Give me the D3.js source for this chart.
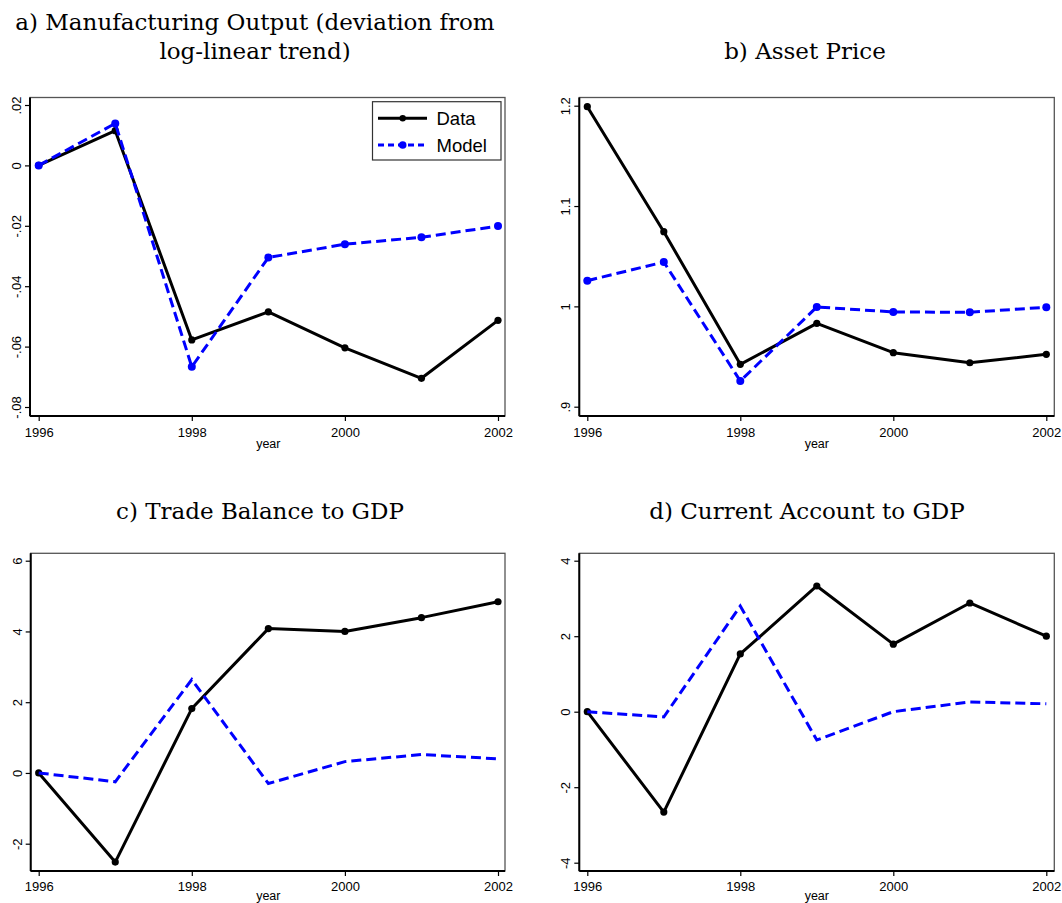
<!DOCTYPE html>
<html>
<head>
<meta charset="utf-8">
<script src="https://cdn.jsdelivr.net/npm/d3@7"></script>
<style>
  html, body { margin: 0; padding: 0; background: #fff; }
  svg { display: block; }
</style>
</head>
<body>
<svg id="chart" width="1062" height="903"></svg>
<script>
// ---------------- data ----------------
const years = [1996, 1997, 1998, 1999, 2000, 2001, 2002];
const xTicks = [1996, 1998, 2000, 2002];

const mfgData  = [0, 0.0115, -0.0578, -0.0485, -0.0604, -0.0705, -0.0513];
const mfgModel = [0, 0.0139, -0.0667, -0.0305, -0.0261, -0.0238, -0.0201];
const mfgTicks = [-0.08, -0.06, -0.04, -0.02, 0, 0.02];
const mfgTickLabels = ["-.08", "-.06", "-.04", "-.02", "0", ".02"];

const assetData  = [1.199, 1.0744, 0.9422, 0.9831, 0.9538, 0.9438, 0.9522];
const assetModel = [1.0256, 1.0442, 0.9256, 0.9994, 0.9944, 0.9941, 0.9991];
const assetTicks = [0.9, 1.0, 1.1, 1.2];
const assetTickLabels = [".9", "1", "1.1", "1.2"];

const tbData  = [0, -2.52, 1.82, 4.08, 4.0, 4.39, 4.84];
const tbModel = [0, -0.25, 2.64, -0.3, 0.32, 0.52, 0.4];
const tbTicks = [-2, 0, 2, 4, 6];
const tbTickLabels = ["-2", "0", "2", "4", "6"];

const caData  = [0, -2.66, 1.53, 3.33, 1.79, 2.88, 2.0];
const caModel = [0, -0.14, 2.8, -0.75, 0.0, 0.26, 0.21];
const caTicks = [-4, -2, 0, 2, 4];
const caTickLabels = ["-4", "-2", "0", "2", "4"];

const seriesNames = ["Data", "Model"];

// ---------------- layout ----------------
const panels = [
  { title: ["a) Manufacturing Output (deviation from", "log-linear trend)"], titleX: 255, titleY: [30, 59],
    box: {l: 30, r: 505, t: 97.5, b: 416}, xPx: [38.7, 498], yPx: [407, 105],
    data: mfgData, model: mfgModel, ticks: mfgTicks, tickLabels: mfgTickLabels,
    modelMarkers: true, legend: true, tickLabelY: 437, xTitleY: 448 },
  { title: ["b) Asset Price"], titleX: 805, titleY: [59],
    box: {l: 579.3, r: 1054.3, t: 97.5, b: 416}, xPx: [587.3, 1046.3], yPx: [406.7, 105.7],
    data: assetData, model: assetModel, ticks: assetTicks, tickLabels: assetTickLabels,
    modelMarkers: true, legend: false, tickLabelY: 437, xTitleY: 448 },
  { title: ["c) Trade Balance to GDP"], titleX: 260, titleY: [519],
    box: {l: 30.7, r: 505, t: 553.3, b: 871}, xPx: [38.7, 498], yPx: [843.7, 560.7],
    data: tbData, model: tbModel, ticks: tbTicks, tickLabels: tbTickLabels,
    modelMarkers: false, legend: false, tickLabelY: 890.5, xTitleY: 899.5 },
  { title: ["d) Current Account to GDP"], titleX: 807, titleY: [519],
    box: {l: 579.3, r: 1054.3, t: 553.3, b: 871}, xPx: [587.3, 1046.3], yPx: [862.7, 560.7],
    data: caData, model: caModel, ticks: caTicks, tickLabels: caTickLabels,
    modelMarkers: false, legend: false, tickLabelY: 890.5, xTitleY: 899.5 }
];

const BLUE = "#0000ff";
const DASH = "10,5";
const svg = d3.select("#chart");

panels.forEach(p => {
  const g = svg.append("g");
  const x = d3.scaleLinear().domain([years[0], years[years.length - 1]]).range(p.xPx);
  const y = d3.scaleLinear().domain([p.ticks[0], p.ticks[p.ticks.length - 1]]).range(p.yPx);

  // titles
  p.title.forEach((t, i) => {
    g.append("text")
      .attr("x", p.titleX).attr("y", p.titleY[i])
      .attr("text-anchor", "middle")
      .attr("font-family", "'DejaVu Serif', serif")
      .attr("font-size", 23)
      .attr("fill", "#000")
      .text(t);
  });

  // plot region outline
  g.append("rect")
    .attr("x", p.box.l).attr("y", p.box.t)
    .attr("width", p.box.r - p.box.l).attr("height", p.box.b - p.box.t)
    .attr("fill", "#fff").attr("stroke", "#555").attr("stroke-width", 1.3);

  // y axis
  const yAxis = d3.axisLeft(y).tickValues(p.ticks)
    .tickFormat((d, i) => p.tickLabels[i]).tickSize(5).tickPadding(0);
  const ya = g.append("g").attr("transform", `translate(${p.box.l},0)`).call(yAxis);
  ya.select(".domain").attr("d", `M0,${p.box.t}V${p.box.b}`).attr("stroke", "#000").attr("stroke-width", 2);
  ya.selectAll(".tick line").attr("stroke", "#000").attr("stroke-width", 1.2);
  ya.selectAll(".tick text")
    .attr("x", null).attr("dy", null)
    .attr("transform", "translate(-9,0) rotate(-90)")
    .attr("text-anchor", "middle")
    .attr("y", 0)
    .attr("font-family", "'Liberation Sans', Arial, sans-serif")
    .attr("font-size", 13).attr("fill", "#000");

  // x axis
  const xAxis = d3.axisBottom(x).tickValues(xTicks).tickFormat(d3.format("d")).tickSize(5).tickPadding(0);
  const xa = g.append("g").attr("transform", `translate(0,${p.box.b})`).call(xAxis);
  xa.select(".domain").attr("d", `M${p.box.l},0H${p.box.r}`).attr("stroke", "#000").attr("stroke-width", 2);
  xa.selectAll(".tick line").attr("stroke", "#000").attr("stroke-width", 1.2);
  xa.selectAll(".tick text")
    .attr("dy", null)
    .attr("y", p.tickLabelY - p.box.b)
    .attr("font-family", "'Liberation Sans', Arial, sans-serif")
    .attr("font-size", 13).attr("fill", "#000");

  g.append("text")
    .attr("x", (p.xPx[0] + p.xPx[1]) / 2).attr("y", p.xTitleY)
    .attr("text-anchor", "middle")
    .attr("font-family", "'Liberation Sans', Arial, sans-serif")
    .attr("font-size", 12.5).attr("fill", "#000")
    .text("year");

  // lines
  const line = d3.line().x((d, i) => x(years[i])).y(d => y(d));
  g.append("path").datum(p.data).attr("d", line)
    .attr("fill", "none").attr("stroke", "#000").attr("stroke-width", 3).attr("stroke-linejoin", "round");
  g.selectAll(".dot-data").data(p.data).enter().append("circle")
    .attr("cx", (d, i) => x(years[i])).attr("cy", d => y(d)).attr("r", 3.6).attr("fill", "#000");

  g.append("path").datum(p.model).attr("d", line)
    .attr("fill", "none").attr("stroke", BLUE).attr("stroke-width", 3).attr("stroke-dasharray", DASH);
  if (p.modelMarkers) {
    g.selectAll(".dot-model").data(p.model).enter().append("circle")
      .attr("cx", (d, i) => x(years[i])).attr("cy", d => y(d)).attr("r", 4).attr("fill", BLUE);
  }

  // legend
  if (p.legend) {
    const lg = g.append("g");
    lg.append("rect").attr("x", 372.5).attr("y", 101.7).attr("width", 128.5).attr("height", 58.3)
      .attr("fill", "#fff").attr("stroke", "#333").attr("stroke-width", 1.2);
    const rows = [
      { name: seriesNames[0], color: "#000", dash: null, yy: 118.3, r: 3.2 },
      { name: seriesNames[1], color: BLUE, dash: "6,4", yy: 145, r: 3.8 }
    ];
    rows.forEach(rw => {
      lg.append("line").attr("x1", 378).attr("x2", 427).attr("y1", rw.yy).attr("y2", rw.yy)
        .attr("stroke", rw.color).attr("stroke-width", 3).attr("stroke-dasharray", rw.dash);
      lg.append("circle").attr("cx", 402.7).attr("cy", rw.yy).attr("r", rw.r).attr("fill", rw.color);
      lg.append("text").attr("x", 436.5).attr("y", rw.yy + 6.5)
        .attr("font-family", "'Liberation Sans', Arial, sans-serif")
        .attr("font-size", 18.5).attr("fill", "#000").text(rw.name);
    });
  }
});
</script>
</body>
</html>
